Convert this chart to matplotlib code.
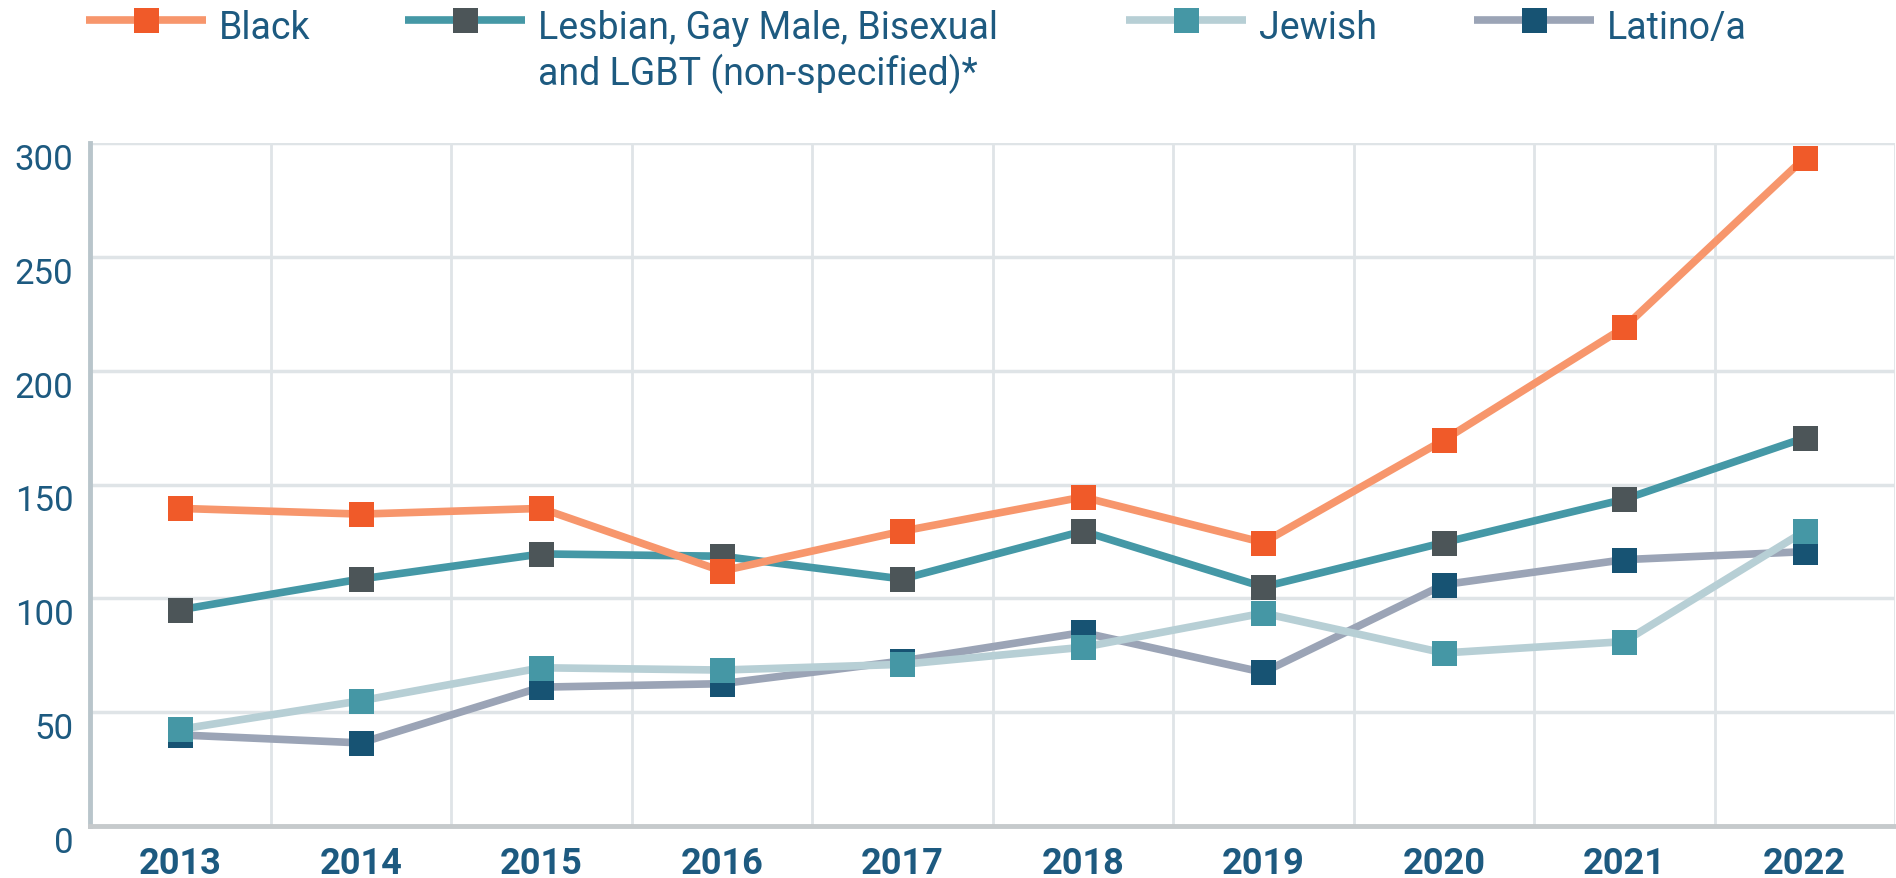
import matplotlib
matplotlib.use("Agg")
import matplotlib.pyplot as plt
from matplotlib.ticker import FixedLocator

# ---- data ----
years = [2013, 2014, 2015, 2016, 2017, 2018, 2019, 2020, 2021, 2022]
black = [139.5, 137, 139.5, 112, 129.5, 144.5, 124.5, 169.5, 219, 293.5]
lgbt = [95, 108.5, 119.5, 118.5, 108.5, 129.5, 105, 124.5, 143.5, 170.5]
jewish = [42.5, 55, 69.5, 68.5, 71, 78.5, 93.5, 76, 81, 129.5]
latino = [40, 36.5, 61, 62.5, 72.5, 85, 67.5, 106, 117, 120.5]

labels = ["Black", "Lesbian, Gay Male, Bisexual\nand LGBT (non-specified)*", "Jewish", "Latino/a"]
yticks = [0, 50, 100, 150, 200, 250, 300]

plt.rcParams['font.family'] = ['Roboto', 'DejaVu Sans']
TXT = "#1d5a80"

fig = plt.figure(figsize=(18.96, 8.79), dpi=100)
W, H = 1896, 879
ax = fig.add_axes([90 / W, 1 - 827 / H, (1895 - 90) / W, (827 - 144) / H])

series = [
    (latino, "#9ba4b6", "#175373", 2, labels[3]),
    (jewish, "#b7cfd5", "#4597a5", 3, labels[2]),
    (lgbt, "#4598a6", "#4c5558", 4, labels[1]),
    (black, "#f7966c", "#f05a29", 5, labels[0]),
]
handles = {}
for vals, lc, mc, z, lab in series:
    ln, = ax.plot(years, vals, color=lc, lw=5.5, marker="s", markersize=18,
                  markerfacecolor=mc, markeredgecolor=mc, markeredgewidth=0,
                  zorder=z, label=lab, solid_capstyle="butt")
    handles[lab] = ln

ax.set_xlim(2012.5, 2022.5)
ax.set_ylim(0, 300)
ax.set_xticks(years)
ax.set_xticklabels([str(y) for y in years])
ax.xaxis.set_minor_locator(FixedLocator([y + 0.5 for y in [2012] + years]))
ax.set_yticks(yticks)
ax.grid(which="minor", axis="x", color="#dfe4e7", lw=2.0, zorder=0)
ax.grid(which="major", axis="y", color="#dfe4e7", lw=2.5, zorder=0)
ax.grid(which="major", axis="x", visible=False)
ax.set_axisbelow(True)

for s in ["top", "right"]:
    ax.spines[s].set_visible(False)
ax.spines["left"].set_color("#b9c5cb")
ax.spines["left"].set_linewidth(3.5)
ax.spines["bottom"].set_color("#c6cacc")
ax.spines["bottom"].set_linewidth(3.5)

ax.tick_params(axis="both", which="both", length=0)
ax.tick_params(axis="y", pad=12, labelsize=25, labelcolor=TXT)
ax.tick_params(axis="x", pad=14, labelsize=26, labelcolor=TXT)
for t in ax.get_xticklabels():
    t.set_fontweight("bold")
for t in ax.get_yticklabels():
    t.set_verticalalignment("top")

# ---- legends ----
pos = [(86, labels[0]), (405, labels[1]), (1126, labels[2]), (1474, labels[3])]
legs = []
for x, lab in pos:
    leg = fig.legend(handles=[handles[lab]], labels=[lab], loc="upper left",
                     bbox_to_anchor=(x / W, 1 - 10 / H), frameon=False,
                     fontsize=27, handlelength=3.2, handletextpad=0.35,
                     handleheight=0.37,
                     borderpad=0, borderaxespad=0, labelcolor=TXT)
    try:
        for col in leg._legend_handle_box.get_children():
            for row in col.get_children():
                row.align = "top"
    except Exception:
        pass
    legs.append(leg)

fig.savefig("out.png", dpi=100)
